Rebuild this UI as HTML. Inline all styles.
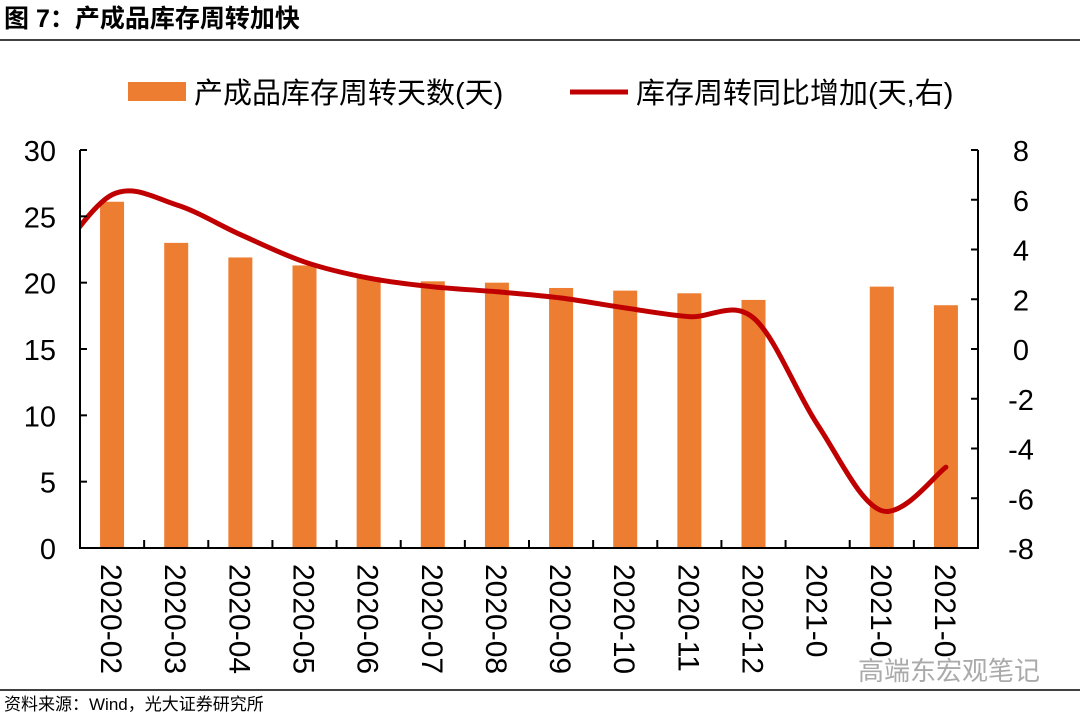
<!DOCTYPE html>
<html><head><meta charset="utf-8"><style>
body{margin:0;background:#fff;width:1080px;height:718px;overflow:hidden;font-family:"Liberation Sans","Noto Sans CJK SC",sans-serif;}
</style></head><body>
<svg width="1080" height="718" xmlns="http://www.w3.org/2000/svg" style="font-family:'Liberation Sans','Noto Sans CJK SC',sans-serif">
<text x="4" y="27" font-size="25" font-weight="bold">图 7：产成品库存周转加快</text>
<line x1="0" y1="40" x2="1080" y2="40" stroke="#000" stroke-width="1.5"/>
<g>
<rect x="128" y="82" width="58" height="19" fill="#ED7D31"/>
<text x="194" y="103" font-size="29">产成品库存周转天数(天)</text>
<line x1="570" y1="92" x2="628" y2="92" stroke="#C00000" stroke-width="5"/>
<text x="636" y="103" font-size="29">库存周转同比增加(天,右)</text>
</g>
<g id="plot"></g>
<line x1="0" y1="690" x2="1080" y2="690" stroke="#000" stroke-width="1.5"/>
<text x="4" y="710" font-size="17">资料来源：Wind，光大证券研究所</text>
<text x="858" y="680" font-size="26" fill="#aaa">高端东宏观笔记</text>
</svg>
<script>
const categories=["2020-02","2020-03","2020-04","2020-05","2020-06","2020-07","2020-08","2020-09","2020-10","2020-11","2020-12","2021-01","2021-02","2021-03"];
const catLabels=["2020-02","2020-03","2020-04","2020-05","2020-06","2020-07","2020-08","2020-09","2020-10","2020-11","2020-12","2021-0","2021-0","2021-0"];
const barValues=[26.1,23.0,21.9,21.3,20.4,20.1,20.0,19.6,19.4,19.2,18.7,null,19.7,18.3];
const lineLead=3.2; // 2020-01 value (off the left edge)
const lineValues=[6.2,5.8,4.6,3.5,2.85,2.5,2.3,2.05,1.65,1.3,1.25,-3.05,-6.5,-4.75];
const leftTicks=[0,5,10,15,20,25,30];
const rightTicks=[-8,-6,-4,-2,0,2,4,6,8];
const NS="http://www.w3.org/2000/svg";
const g=document.getElementById('plot');
const X0=80,X1=978,Y0=548,Y1=150;
const step=(X1-X0)/categories.length;
const xC=i=>X0+step*(i+0.5);
const yL=v=>Y0-(v-0)/(30-0)*(Y0-Y1);
const yR=v=>Y0-(v+8)/16*(Y0-Y1);
function mk(t,a){const e=document.createElementNS(NS,t);for(const k in a)e.setAttribute(k,a[k]);g.appendChild(e);return e;}
barValues.forEach((v,i)=>{if(v==null)return;
const r=mk('rect',{x:xC(i)-12,y:yL(v),width:24,height:Y0-yL(v),fill:'#ED7D31'});

});
const pts=[[xC(-1),yR(lineLead)]].concat(lineValues.map((v,i)=>[xC(i),yR(v)]));
let d='M'+pts[0][0]+','+pts[0][1];
for(let i=0;i<pts.length-1;i++){const p0=pts[Math.max(0,i-1)],p1=pts[i],p2=pts[i+1],p3=pts[Math.min(pts.length-1,i+2)];
d+=` C${p1[0]+(p2[0]-p0[0])/6},${p1[1]+(p2[1]-p0[1])/6} ${p2[0]-(p3[0]-p1[0])/6},${p2[1]-(p3[1]-p1[1])/6} ${p2[0]},${p2[1]}`;}
const cp=mk('clipPath',{id:'cl'});const cr=document.createElementNS(NS,'rect');
cr.setAttribute('x',X0);cr.setAttribute('y',0);cr.setAttribute('width',X1-X0);cr.setAttribute('height',718);cp.appendChild(cr);
const ln=mk('path',{d:d,fill:'none',stroke:'#C00000','stroke-width':5,'clip-path':'url(#cl)','stroke-linecap':'round'});


const ax=mk('path',{d:`M${X0},${Y1}V${Y0}H${X1}V${Y1}`,fill:'none',stroke:'#000','stroke-width':2});


leftTicks.forEach(v=>{mk('line',{x1:X0,x2:X0+7,y1:yL(v),y2:yL(v),stroke:'#000','stroke-width':2});
const t=mk('text',{x:X0-24,y:yL(v)+11,'font-size':29,'text-anchor':'end'});t.textContent=v;

});
rightTicks.forEach(v=>{mk('line',{x1:X1-7,x2:X1,y1:yR(v),y2:yR(v),stroke:'#000','stroke-width':2});
const t=mk('text',{x:X1+43,y:yR(v)+11,'font-size':29,'text-anchor':'middle'});t.textContent=v;

});
for(let i=1;i<categories.length;i++)mk('line',{x1:X0+step*i,x2:X0+step*i,y1:Y0,y2:Y0-8,stroke:'#000','stroke-width':2});
catLabels.forEach((c,i)=>{const t=mk('text',{x:0,y:0,'font-size':30,transform:`translate(${xC(i)-11},564) rotate(90)`});t.textContent=c;

});
</script>
</body></html>
